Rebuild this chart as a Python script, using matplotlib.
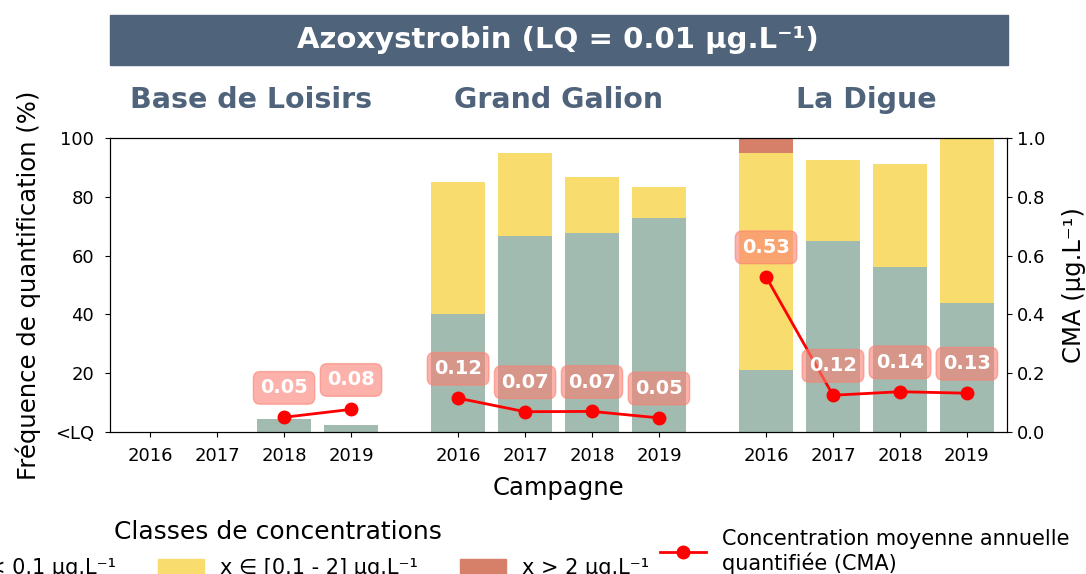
import numpy as np
from matplotlib import pyplot as plt
from matplotlib.patches import Patch
from matplotlib.lines import Line2D

sites = ["Base de Loisirs", "Grand Galion", "La Digue"]
years = ["2016", "2017", "2018", "2019"]

# frequences de quantification (%) par classe, une liste par site
low_base = [0, 0, 4.3, 2.3]
mid_base = [0, 0, 0, 0]
high_base = [0, 0, 0, 0]

low_gg = [40.3, 66.5, 67.8, 72.8]
mid_gg = [44.6, 28.3, 18.9, 10.5]
high_gg = [0, 0, 0, 0]

low_ld = [21.2, 65.0, 56.0, 44.0]
mid_ld = [73.6, 27.5, 35.2, 56.0]
high_ld = [5.2, 0, 0, 0]

# concentration moyenne annuelle quantifiee (ug/L)
cma_base = [np.nan, np.nan, 0.05, 0.077]
cma_gg = [0.115, 0.069, 0.07, 0.048]
cma_ld = [0.528, 0.125, 0.137, 0.132]

col_low = "#a2bbb0"
col_mid = "#f9dc6e"
col_high = "#d67f69"
banner = "#4f637b"

fig = plt.figure(figsize=(10.86, 5.74), dpi=100)
ax = fig.add_axes([0.1013, 0.2474, 0.8260, 0.5122])
ax2 = ax.twinx()

lows = [low_base, low_gg, low_ld]
mids = [mid_base, mid_gg, mid_ld]
highs = [high_base, high_gg, high_ld]
cmas = [cma_base, cma_gg, cma_ld]

gap = 1.6
all_x = []
for g in range(3):
    x = np.arange(4) + g * (3 + gap)
    all_x.extend(x)
    lo = np.array(lows[g])
    mi = np.array(mids[g])
    hi = np.array(highs[g])
    ax.bar(x, lo, width=0.8, color=col_low)
    ax.bar(x, mi, width=0.8, bottom=lo, color=col_mid)
    ax.bar(x, hi, width=0.8, bottom=lo + mi, color=col_high)

    c = np.array(cmas[g])
    ax2.plot(x, c, color="red", marker="o", markersize=9, linewidth=2, zorder=5)
    for xi, ci in zip(x, c):
        if np.isnan(ci):
            continue
        ax2.annotate(f"{ci:.2f}", xy=(xi, ci), xytext=(xi, ci + 0.1),
                     ha="center", va="center", color="white", fontsize=14, fontweight="bold",
                     bbox=dict(boxstyle="round,pad=0.35", fc="salmon", ec="salmon", alpha=0.6),
                     zorder=6)

    ax.text(x.mean(), 1.13, sites[g], transform=ax.get_xaxis_transform(),
            ha="center", va="center", fontsize=20.5, fontweight="bold", color=banner)

ax.set_xlim(-0.6, all_x[-1] + 0.6)
ax.set_ylim(0, 100)
ax.set_yticks([0, 20, 40, 60, 80, 100])
ax.set_yticklabels(["<LQ", "20", "40", "60", "80", "100"])
ax.set_xticks(all_x)
ax.set_xticklabels(years * 3)
ax.tick_params(labelsize=13)
ax.tick_params(axis="x", pad=7)
ax.tick_params(axis="y", pad=8)
ax.set_ylabel("Fréquence de quantification (%)", fontsize=17.5, labelpad=10)
ax.set_xlabel("Campagne", fontsize=17.5, labelpad=8)

ax2.set_ylim(0, 1)
ax2.set_yticks(np.arange(0, 1.01, 0.2))
ax2.tick_params(labelsize=13)
ax2.set_ylabel("CMA (µg.L⁻¹)", fontsize=17.5, labelpad=12)

# bandeau titre
fig.patches.append(plt.Rectangle((0.1013, 1 - 65 / 574), 0.8270, 50 / 574, transform=fig.transFigure,
                                 color=banner, zorder=0))
fig.text(0.514, 1 - 40 / 574, "Azoxystrobin (LQ = 0.01 µg.L⁻¹)", ha="center", va="center",
         color="white", fontsize=21, fontweight="bold")

handles = [Patch(color=col_low), Patch(color=col_mid), Patch(color=col_high)]
labels = ["x < 0.1 µg.L⁻¹", "x ∈ [0.1 - 2] µg.L⁻¹", "x > 2 µg.L⁻¹"]
leg1 = fig.legend(handles, labels, title="Classes de concentrations", ncol=3, frameon=False,
                  loc="upper center", bbox_to_anchor=(278 / 1086, 1 - 501 / 574),
                  fontsize=15, title_fontsize=18, handlelength=2.2, columnspacing=2.0)
leg1._legend_box.sep = 10

leg2 = fig.legend([Line2D([], [], color="red", marker="o", markersize=9, linewidth=2)],
                  ["Concentration moyenne annuelle\nquantifiée (CMA)"], frameon=False,
                  loc="upper left", bbox_to_anchor=(641 / 1086, 1 - 510 / 574), fontsize=15,
                  handlelength=2.2)

plt.savefig("out.png", dpi=100)
